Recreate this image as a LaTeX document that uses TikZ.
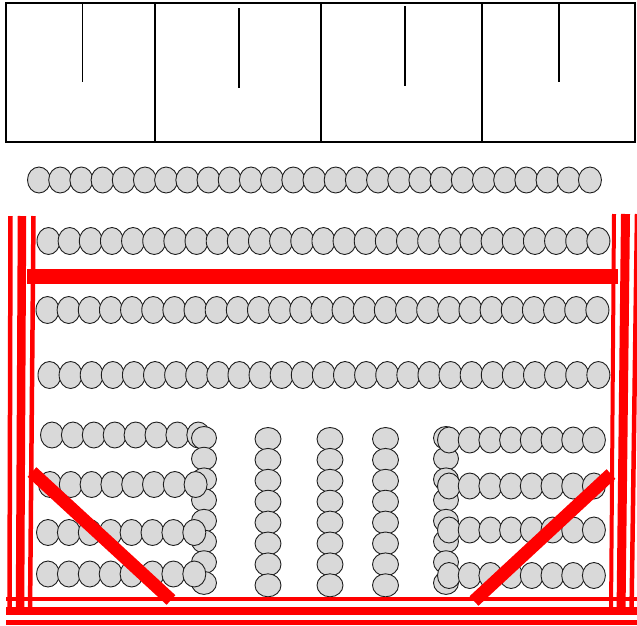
\documentclass[tikz,border=0pt]{standalone}
\definecolor{beadgray}{HTML}{D9D9D9}
\definecolor{beadline}{HTML}{1E1E1E}
\begin{document}
\begin{tikzpicture}[x=1pt,y=-1pt]
\tikzset{
  bead/.style={fill=beadgray, draw=beadline, line width=0.9pt},
  frame/.style={draw=black, line width=2pt},
  redline/.style={draw=red, line cap=butt}
}
\useasboundingbox[fill=white] (0,0) rectangle (637,625);

% top building block
\draw[frame] (6,3) rectangle (635,142);
\draw[frame] (155,3) -- (155,142);
\draw[frame] (321,3) -- (321,142);
\draw[frame] (482,3) -- (482,142);
\draw[black, line width=1pt] (82,3) -- (82,82);
\draw[black, line width=2pt] (239,8) -- (239,88);
\draw[black, line width=1.2pt] (405,6) -- (405,86);
\draw[black, line width=1.5pt] (559,3) -- (559,82);

% long rows of beads
\foreach \i in {0,...,26} \path[bead] ({39+\i*21.19},180) ellipse [x radius=11.5pt, y radius=13pt];
\foreach \i in {0,...,26} \path[bead] ({48.5+\i*21.15},241) ellipse [x radius=11.5pt, y radius=13.5pt];
\foreach \i in {0,...,26} \path[bead] ({47.5+\i*21.15},310) ellipse [x radius=11.5pt, y radius=13.5pt];
\foreach \i in {0,...,26} \path[bead] ({49.5+\i*21.11},375) ellipse [x radius=11.5pt, y radius=13.5pt];

% lower left group
\foreach \i in {0,...,7} \path[bead] ({52+\i*20.9},435) ellipse [x radius=11.5pt, y radius=13pt];
\foreach \i in {0,...,7} \path[bead] (204,{438+\i*20.7}) ellipse [x radius=12.5pt, y radius=11.5pt];
\foreach \i in {0,...,7} \path[bead] ({50+\i*20.8},484.5) ellipse [x radius=11.5pt, y radius=13pt];
\foreach \i in {0,...,7} \path[bead] ({48+\i*20.9},532.5) ellipse [x radius=11.5pt, y radius=13pt];
\foreach \i in {0,...,7} \path[bead] ({48+\i*20.9},574) ellipse [x radius=11.5pt, y radius=13pt];

% middle columns
\foreach \x in {268,330,385.5}
  \foreach \i in {0,...,7} \path[bead] (\x,{439+\i*20.9}) ellipse [x radius=13pt, y radius=11.5pt];

% lower right group
\foreach \i in {0,...,7} \path[bead] (446,{438+\i*20.7}) ellipse [x radius=12.5pt, y radius=11.5pt];
\foreach \y in {440,486,530,575.5}
  \foreach \i in {0,...,7} \path[bead] ({449+\i*20.7},\y) ellipse [x radius=11.5pt, y radius=13pt];

% red lines: left verticals
\draw[redline, line width=4.5pt] (10.5,216) -- (9.5,614);
\draw[redline, line width=8.5pt] (22,216) -- (20,614);
\draw[redline, line width=4.5pt] (33.5,216) -- (30,614);
% right verticals
\draw[redline, line width=4pt] (614,214) -- (611,614);
\draw[redline, line width=9pt] (625.5,214) -- (621,614);
\draw[redline, line width=4.5pt] (637,214) -- (631.5,614);
% bottom horizontals
\draw[redline, line width=4.5pt] (6,599) -- (637,599);
\draw[redline, line width=8.5pt] (6,611) -- (637,611);
\draw[redline, line width=4.5pt] (6,622.5) -- (637,622.5);
% thick bar
\draw[redline, line width=15pt] (27,276) -- (618,276);
% diagonals
\draw[redline, line width=13pt] (32,472) -- (171,600);
\draw[redline, line width=13pt] (611,474) -- (474,601);
\end{tikzpicture}
\end{document}
